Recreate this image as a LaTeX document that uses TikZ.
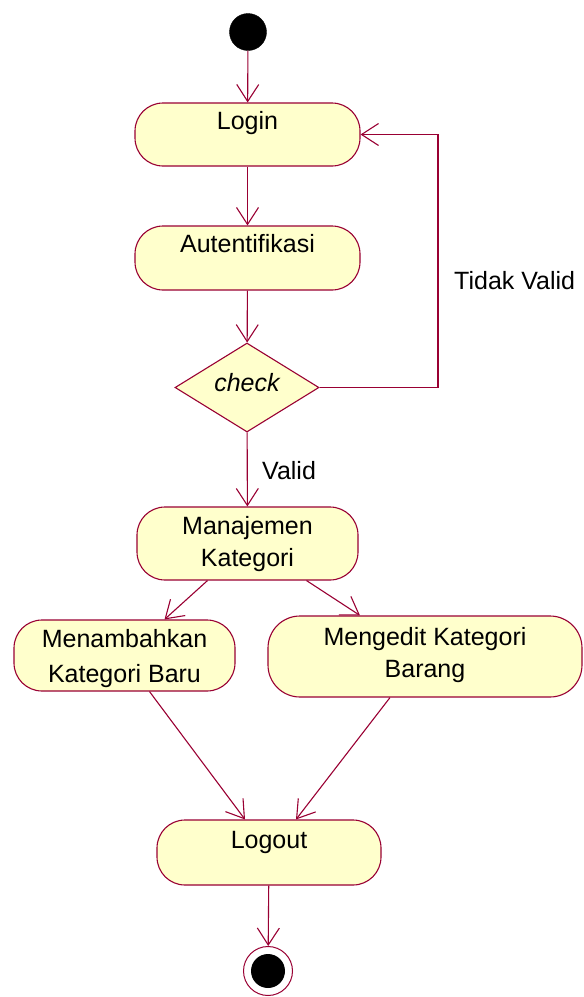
\documentclass[tikz,border=0pt]{standalone}
\usepackage{fontspec}
\setmainfont{Liberation Sans}
\usetikzlibrary{arrows.meta,shapes.geometric}
\definecolor{edge}{HTML}{990033}
\definecolor{statefill}{HTML}{FFFFCC}
\begin{document}
\begin{tikzpicture}[x=1pt,y=-1pt,
  every node/.style={font=\fontsize{25}{30}\selectfont},
  activity/.style={draw=edge,fill=statefill,line width=1.1pt,rounded corners=28pt,inner sep=0pt},
  decision/.style={draw=edge,fill=statefill,line width=1.1pt,diamond,inner sep=0pt},
  txt/.style={anchor=base,inner sep=0pt,align=center},
  flow/.style={draw=edge,line width=1.1pt,-{Straight Barb[length=17pt,width=22pt,line width=1.1pt]}}
]
\useasboundingbox (0,0) rectangle (584,997);

% initial and final states
\node[circle,fill=black,draw=black,minimum size=37pt,inner sep=0pt] (start) at (248,32) {};
\node[circle,draw=edge,line width=1pt,fill=white,minimum size=49pt,inner sep=0pt] (end) at (268,971) {};
\node[circle,fill=black,minimum size=34pt,inner sep=0pt] (endcore) at (268,971) {};

% activity states
\node[activity,minimum width=225pt,minimum height=63pt] (login) at (247.5,134.5) {};
\node[txt] (login-t) at (247.5,129) {Login};

\node[activity,minimum width=225pt,minimum height=64pt] (auth) at (247.5,258) {};
\node[txt] (auth-t) at (247.5,252) {Autentifikasi};

\node[decision,minimum width=144pt,minimum height=89pt] (check) at (247,387.5) {};
\node[txt] (check-t) at (247,391) {\itshape check};

\node[activity,minimum width=221pt,minimum height=73pt] (manaj) at (247.5,543.5) {};
\node[txt] (manaj-t1) at (247.5,534) {Manajemen};
\node[txt] (manaj-t2) at (247.5,566) {Kategori};

\node[activity,minimum width=221pt,minimum height=71pt] (menamb) at (124.5,655.5) {};
\node[txt] (menamb-t1) at (124.5,647) {Menambahkan};
\node[txt] (menamb-t2) at (124.5,682) {Kategori Baru};

\node[activity,minimum width=314pt,minimum height=81pt,rounded corners=32pt] (edit) at (425,656.5) {};
\node[txt] (edit-t1) at (425,645) {Mengedit Kategori};
\node[txt] (edit-t2) at (425,677) {Barang};

\node[activity,minimum width=224pt,minimum height=65pt] (logout) at (269,852.5) {};
\node[txt] (logout-t) at (269,848) {Logout};

% guard labels
\node[anchor=base west,inner sep=0pt] (invalid) at (454,289) {Tidak Valid};
\node[anchor=base west,inner sep=0pt] (valid) at (262,479) {Valid};

% transitions
\coordinate (loop) at (438,134.5);
\draw[flow] (start) -- (login);
\draw[flow] (login) -- (auth);
\draw[flow] (auth) -- (check);
\draw[flow] (check.east) -| (loop) -- (login.east);
\draw[flow] (check) -- (manaj);
\draw[flow] ([xshift=-40pt]manaj.south) -- ([xshift=40pt]menamb.north);
\draw[flow] ([xshift=59pt]manaj.south) -- ([xshift=-65pt]edit.north);
\draw[flow] ([xshift=25pt]menamb.south) -- ([xshift=-24pt]logout.north);
\draw[flow] ([xshift=-35pt]edit.south) -- ([xshift=27pt]logout.north);
\draw[flow] (logout) -- (end);
\end{tikzpicture}
\end{document}
